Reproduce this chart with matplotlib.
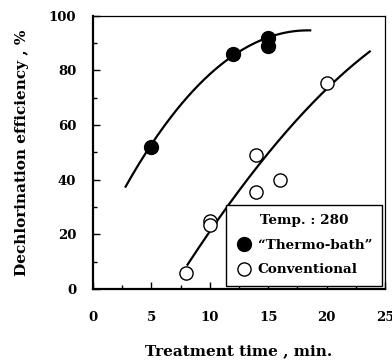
import matplotlib
matplotlib.use("Agg")
import matplotlib.pyplot as plt
import numpy as np
from matplotlib.ticker import MultipleLocator
from matplotlib.lines import Line2D

# measured points
thermo_t = [5, 12, 15, 15]
thermo_eff = [52, 86, 92, 89]

conv_t = [8, 10, 10, 14, 14, 16, 20]
conv_eff = [6, 25, 23.5, 49, 35.5, 40, 75.5]

# trend curves (knots)
thermo_curve_t = [2.8, 5, 7.2, 10, 12, 15, 18.6]
thermo_curve_eff = [38, 52, 65.5, 79.5, 86, 91, 95]
conv_curve_t = [8.1, 10, 12, 14.3, 17, 20, 23.7]
conv_curve_eff = [9, 21, 33, 46, 60, 73, 87]

plt.rcParams['font.family'] = 'DejaVu Serif'
plt.rcParams['font.weight'] = 'bold'

fig = plt.figure(figsize=(3.92, 3.6), dpi=100)
ax = fig.add_axes([0.237, 0.197, 0.745, 0.759])


def smooth(x, y, deg=3):
    c = np.polyfit(x, y, deg)
    xs = np.linspace(x[0], x[-1], 200)
    return xs, np.polyval(c, xs)


xs, ys = smooth(thermo_curve_t, thermo_curve_eff)
ax.plot(xs, ys, color='black', lw=1.6, zorder=2)
xs, ys = smooth(conv_curve_t, conv_curve_eff)
ax.plot(xs, ys, color='black', lw=1.6, zorder=2)

ax.plot(thermo_t, thermo_eff, 'o', color='black', ms=10, zorder=3)
ax.plot(conv_t, conv_eff, 'o', mfc='white', mec='black', mew=1.0, ms=9.5, zorder=3)

ax.set_xlim(0, 25)
ax.set_ylim(0, 100)
ax.xaxis.set_major_locator(MultipleLocator(5))
ax.xaxis.set_minor_locator(MultipleLocator(2.5))
ax.yaxis.set_major_locator(MultipleLocator(20))
ax.yaxis.set_minor_locator(MultipleLocator(10))
ax.tick_params(which='both', direction='in', top=False, right=False)
ax.tick_params(which='major', length=5, width=1.0, labelsize=9.5)
ax.tick_params(which='minor', length=3, width=1.0)
ax.tick_params(axis='x', pad=16)
ax.tick_params(axis='y', pad=12)

for s in ['left', 'bottom']:
    ax.spines[s].set_linewidth(1.6)
for s in ['top', 'right']:
    ax.spines[s].set_linewidth(0.9)

ax.set_xlabel('Treatment time , min.', fontsize=11, fontweight='bold', labelpad=14)
ax.set_ylabel('Dechlorination efficiency , %', fontsize=11, fontweight='bold', labelpad=14)

handles = [Line2D([], [], ls='none', marker='o', color='black', ms=10),
           Line2D([], [], ls='none', marker='o', mfc='white', mec='black', mew=1.0, ms=9.5)]
leg = ax.legend(handles, ['\u201cThermo-bath\u201d', 'Conventional'],
                title='Temp. : 280', loc='lower right',
                bbox_to_anchor=(0.989, 0.012), fancybox=False, framealpha=1,
                edgecolor='black', fontsize=9.7, title_fontsize=9.7,
                handletextpad=0.35, handlelength=1.3, borderpad=0.7,
                labelspacing=0.85, borderaxespad=0)
leg.get_frame().set_linewidth(1.0)
leg.get_title().set_fontweight('bold')

fig.savefig('out.png', dpi=100)
